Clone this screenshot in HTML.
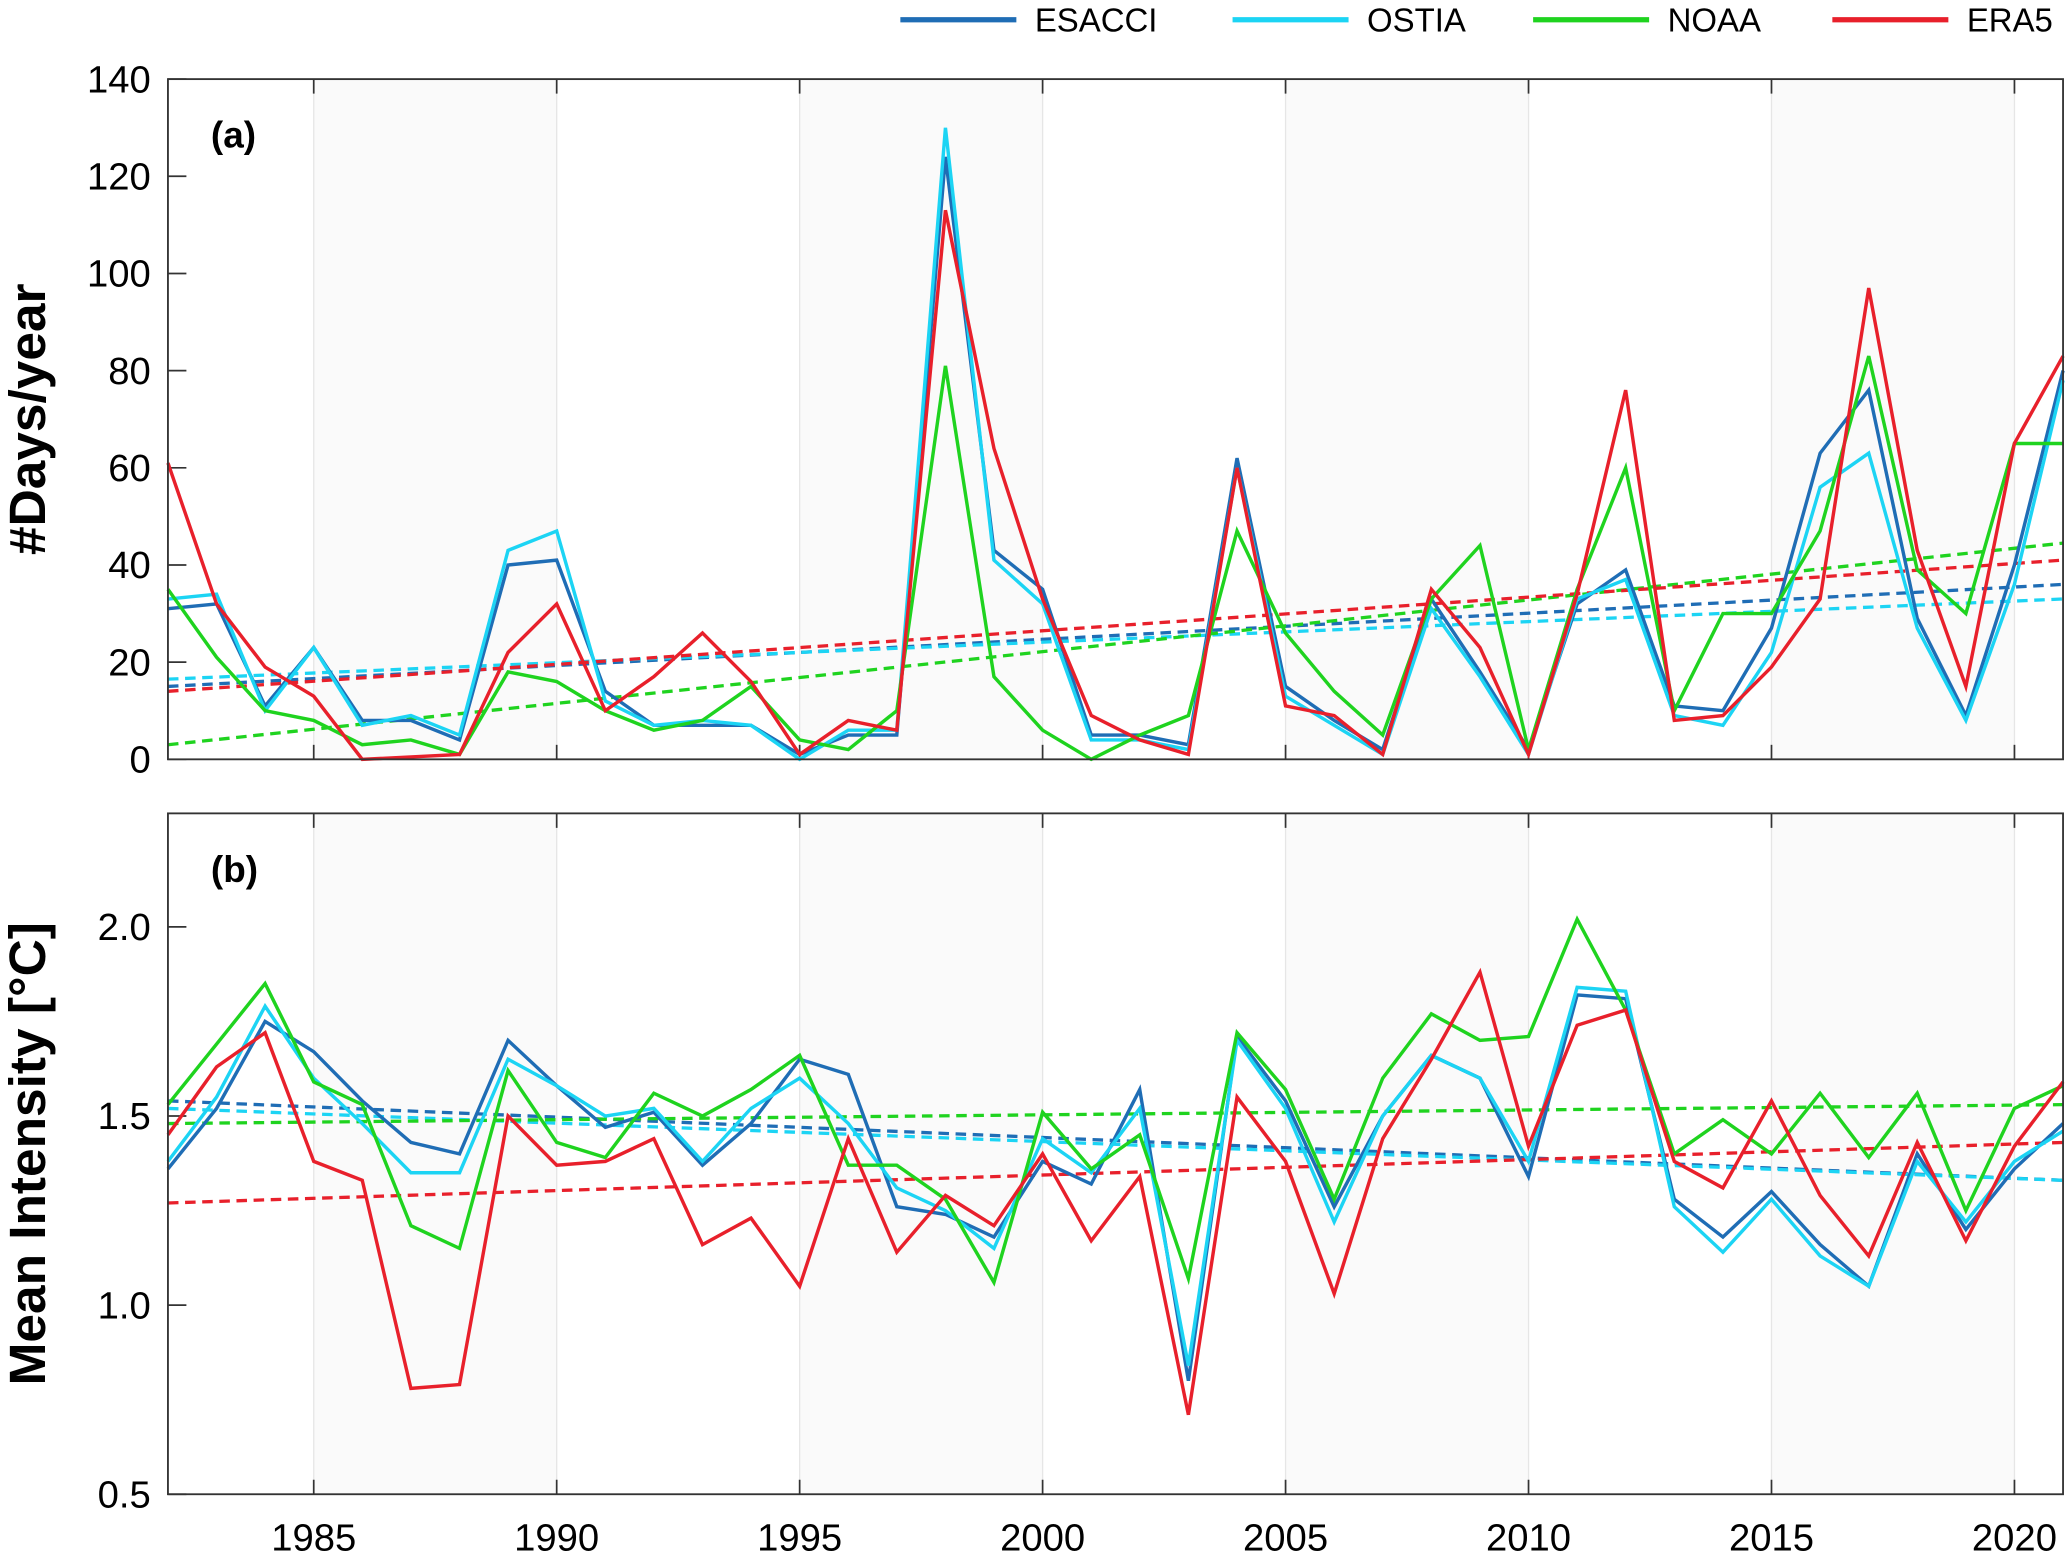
<!DOCTYPE html>
<html><head><meta charset="utf-8"><style>
html,body{margin:0;padding:0;background:#fff}
svg{display:block;font-family:"Liberation Sans",Arial,sans-serif}
</style></head><body>
<svg id="chart" width="2067" height="1552" viewBox="0 0 1568 1177.3" xmlns="http://www.w3.org/2000/svg"></svg>
<script>
const years=[];for(let y=1982;y<=2021;y++)years.push(y);
const xTicks=[1985,1990,1995,2000,2005,2010,2015,2020];
const aTicks=[0,20,40,60,80,100,120,140];
const bTicks=[0.5,1.0,1.5,2.0];
const bTickLabels=["0.5","1.0","1.5","2.0"];
const seriesNames=["ESACCI","OSTIA","NOAA","ERA5"];
const colors=["#1f6db5","#1cd4f4","#1fd31f","#e8202b"];
const daysESACCI=[31,32,11,23,8,8,4,40,41,14,7,7,7,1,5,5,124,43,35,5,5,3,62,15,8,2,33,18,2,32,39,11,10,27,63,76,29,9,40,80];
const daysOSTIA=[33,34,10,23,7,9,5,43,47,12,7,8,7,0,6,6,130,41,32,4,4,2,60,13,7,1,31,17,1,33,37,9,7,22,56,63,27,8,36,78];
const daysNOAA=[35,21,10,8,3,4,1,18,16,10,6,8,15,4,2,10,81,17,6,0,5,9,47,26,14,5,33,44,2,35,60,10,30,30,47,83,39,30,65,65];
const daysERA5=[61,32,19,13,0,0.5,1,22,32,10,17,26,16,1,8,6,113,64,33,9,4,1,60,11,9,1,35,23,1,34,76,8,9,19,33,97,43,15,65,83];
const trendDaysStart=[15,16.5,3,14];
const trendDaysEnd=[36,33,44.5,41];
const intESACCI=[1.36,1.52,1.75,1.67,1.54,1.43,1.40,1.70,1.58,1.47,1.51,1.37,1.48,1.65,1.61,1.26,1.24,1.18,1.38,1.32,1.57,0.80,1.71,1.54,1.26,1.50,1.66,1.60,1.34,1.82,1.81,1.28,1.18,1.30,1.16,1.05,1.40,1.20,1.36,1.48];
const intOSTIA=[1.38,1.55,1.79,1.60,1.48,1.35,1.35,1.65,1.58,1.50,1.52,1.38,1.52,1.60,1.48,1.31,1.25,1.15,1.44,1.35,1.52,0.84,1.70,1.52,1.22,1.50,1.66,1.60,1.38,1.84,1.83,1.26,1.14,1.28,1.13,1.05,1.38,1.22,1.38,1.46];
const intNOAA=[1.53,1.69,1.85,1.59,1.53,1.21,1.15,1.62,1.43,1.39,1.56,1.50,1.57,1.66,1.37,1.37,1.28,1.06,1.51,1.36,1.45,1.07,1.72,1.57,1.28,1.60,1.77,1.70,1.71,2.02,1.78,1.40,1.49,1.40,1.56,1.39,1.56,1.25,1.52,1.58];
const intERA5=[1.45,1.63,1.72,1.38,1.33,0.78,0.79,1.50,1.37,1.38,1.44,1.16,1.23,1.05,1.44,1.14,1.29,1.21,1.40,1.17,1.34,0.71,1.55,1.38,1.03,1.44,1.65,1.88,1.42,1.74,1.78,1.38,1.31,1.54,1.29,1.13,1.43,1.17,1.42,1.59];
const trendIntStart=[1.54,1.52,1.48,1.27];
const trendIntEnd=[1.33,1.33,1.53,1.43];

const svg=document.getElementById('chart');
const NS="http://www.w3.org/2000/svg";
function mk(tag,attrs,parent){const e=document.createElementNS(NS,tag);for(const k in attrs)e.setAttribute(k,attrs[k]);(parent||svg).appendChild(e);return e;}
const X0=127.4,X1=1565;
const xs=y=>X0+(y-1982)/(2021-1982)*(X1-X0);
const panels=[
 {top:60,bot:576,min:0,max:140,ticks:aTicks,labels:aTicks.map(String),label:"(a)",title:"#Days/year",data:[daysESACCI,daysOSTIA,daysNOAA,daysERA5],ts:trendDaysStart,te:trendDaysEnd,key:"days"},
 {top:617,bot:1133.5,min:0.5,max:2.3,ticks:bTicks,labels:bTickLabels,label:"(b)",title:"Mean Intensity [°C]",data:[intESACCI,intOSTIA,intNOAA,intERA5],ts:trendIntStart,te:trendIntEnd,key:"intensity"}
];
panels.forEach((p,pi)=>{
 const ys=v=>p.bot-(v-p.min)/(p.max-p.min)*(p.bot-p.top);
 const g=mk('g',{});
 
 
 const bg=mk('rect',{x:X0,y:p.top,width:X1-X0,height:p.bot-p.top,fill:'#fff'},g);
 
 for(let s=1985;s<2021;s+=10){const r=mk('rect',{x:xs(s),y:p.top,width:xs(Math.min(s+5,2021))-xs(s),height:p.bot-p.top,fill:'#fafafa'},g);
  }
 xTicks.forEach(t=>{const l=mk('line',{x1:xs(t),x2:xs(t),y1:p.top,y2:p.bot,stroke:'#e6e6e6','stroke-width':1},g);
  
  mk('line',{x1:xs(t),x2:xs(t),y1:p.top,y2:p.top+11,stroke:'#333','stroke-width':1.3},g);
  mk('line',{x1:xs(t),x2:xs(t),y1:p.bot,y2:p.bot-11,stroke:'#333','stroke-width':1.3},g);
  if(pi===1){const tx=mk('text',{x:xs(t),y:1176,'font-size':29,'text-anchor':'middle',fill:'#000'},g);tx.textContent=t;
   }
 });
 p.ticks.forEach((t,i)=>{const y=ys(t);
  mk('line',{x1:X0,x2:X0+14,y1:y,y2:y,stroke:'#333','stroke-width':1.3},g);
  const tx=mk('text',{x:X0-13,y:y+10,'font-size':29,'text-anchor':'end',fill:'#000'},g);tx.textContent=p.labels[i];
  });
 p.data.forEach((d,si)=>{
  const tl=mk('line',{x1:xs(1982),y1:ys(p.ts[si]),x2:xs(2021),y2:ys(p.te[si]),stroke:colors[si],'stroke-width':2.5,'stroke-dasharray':'8,5'},g);
  
 });
 p.data.forEach((d,si)=>{
  const pts=d.map((v,i)=>xs(years[i]).toFixed(1)+','+ys(v).toFixed(1)).join(' ');
  const pl=mk('polyline',{points:pts,fill:'none',stroke:colors[si],'stroke-width':2.6,'stroke-linejoin':'miter'},g);
  
 });
 const fr=mk('rect',{x:X0,y:p.top,width:X1-X0,height:p.bot-p.top,fill:'none',stroke:'#333','stroke-width':1.4},g);
 
 const lb=mk('text',{x:160,y:p.top+52,'font-size':28,'font-weight':'bold',fill:'#000'},g);lb.textContent=p.label;
 
 const cy=(p.top+p.bot)/2;
 const yt=mk('text',{x:0,y:0,'font-size':39,'font-weight':'bold','text-anchor':'middle',fill:'#000',transform:`translate(34,${cy}) rotate(-90)`},g);yt.textContent=p.title;
 
});
const legX=[683,935,1163,1390];
const lg=mk('g',{});

seriesNames.forEach((n,i)=>{
 const e=mk('g',{},lg);
 
 mk('line',{x1:legX[i],x2:legX[i]+88,y1:15,y2:15,stroke:colors[i],'stroke-width':4},e);
 const t=mk('text',{x:legX[i]+102,y:24,'font-size':25,fill:'#000'},e);t.textContent=n;
});
</script>
</body></html>
